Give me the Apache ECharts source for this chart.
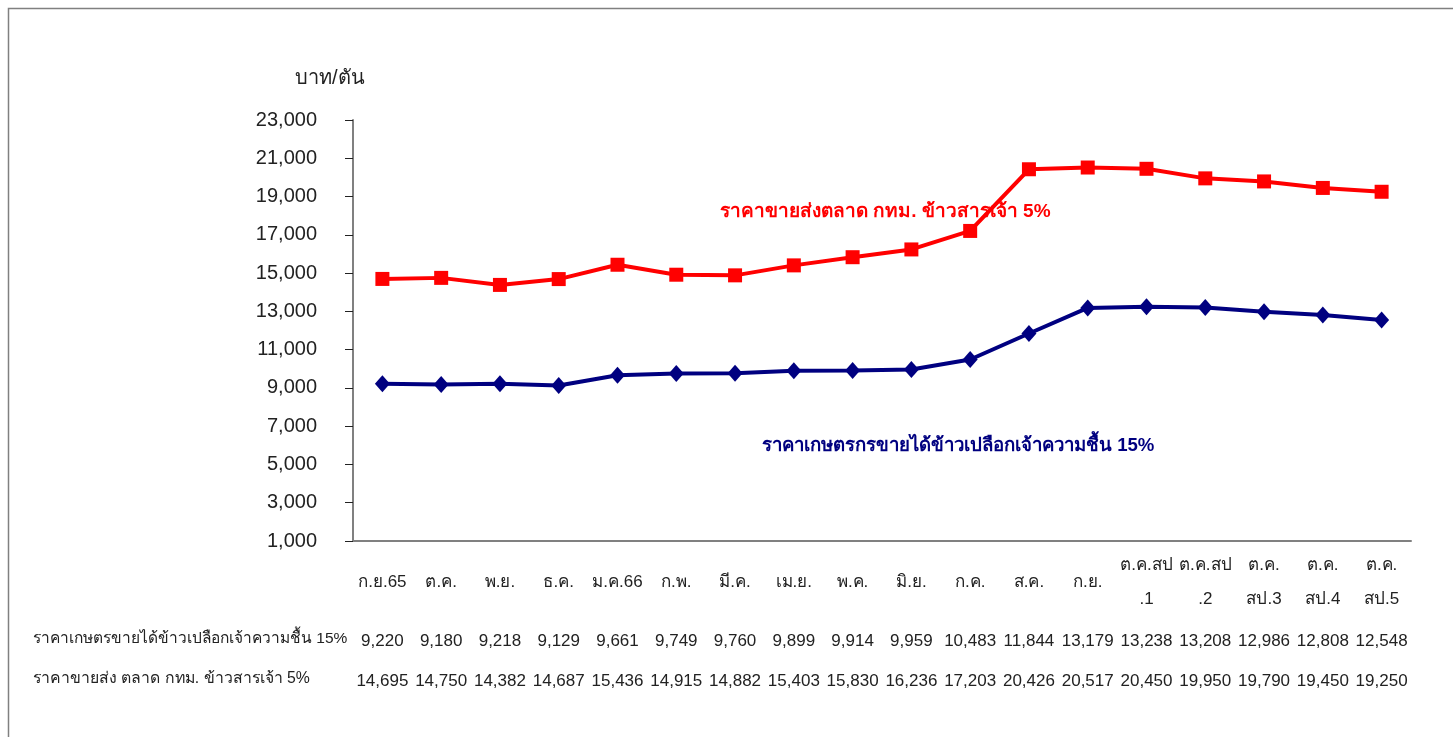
<!DOCTYPE html>
<html>
<head>
<meta charset="utf-8">
<script src="https://cdn.jsdelivr.net/npm/echarts@6/dist/echarts.min.js"></script>
<style>
html,body{margin:0;padding:0;background:#fff;}
#c{width:1453px;height:737px;}
</style>
</head>
<body>
<div id="c"></div>
<script>
const categories = ['ก.ย.65','ต.ค.','พ.ย.','ธ.ค.','ม.ค.66','ก.พ.','มี.ค.','เม.ย.','พ.ค.','มิ.ย.','ก.ค.','ส.ค.','ก.ย.','ต.ค.สป\n.1','ต.ค.สป\n.2','ต.ค.\nสป.3','ต.ค.\nสป.4','ต.ค.\nสป.5'];
const farmerName = 'ราคาเกษตรกรขายได้ข้าวเปลือกเจ้าความชื้น 15%';
const wholesaleName = 'ราคาขายส่งตลาด กทม. ข้าวสารเจ้า 5%';
const farmerRowLabel = 'ราคาเกษตรขายได้ข้าวเปลือกเจ้าความชื้น 15%';
const wholesaleRowLabel = 'ราคาขายส่ง ตลาด กทม. ข้าวสารเจ้า 5%';
const farmerPrice = [9220,9180,9218,9129,9661,9749,9760,9899,9914,9959,10483,11844,13179,13238,13208,12986,12808,12548];
const wholesalePrice = [14695,14750,14382,14687,15436,14915,14882,15403,15830,16236,17203,20426,20517,20450,19950,19790,19450,19250];
const yMin = 1000, yMax = 23000, yStep = 2000;
const unitLabel = 'บาท/ตัน';

const FONT = "Tahoma, 'Liberation Sans', 'DejaVu Sans', sans-serif";
const fmt = v => v.toLocaleString('en-US');

const chart = echarts.init(document.getElementById('c'), null, {renderer:'canvas'});
const hiddenAxis = (data, margin) => ({
  type:'category', data: data, position:'bottom', gridIndex:0,
  axisLine:{show:false}, axisTick:{show:false}, splitLine:{show:false},
  axisLabel:{interval:0, margin: margin, verticalAlign:'middle', fontFamily:FONT, fontSize:17, color:'#222'}
});
chart.setOption({
  animation:false,
  backgroundColor:'#fff',
  grid:{left:353, right:42, top:120, bottom:196, containLabel:false},
  xAxis:[
    {type:'category', data:categories, boundaryGap:true,
     axisLine:{lineStyle:{color:'#808080', width:2}}, axisTick:{show:false},
     axisLabel:{interval:0, margin:41, verticalAlign:'middle', lineHeight:34, fontFamily:FONT, fontSize:17, color:'#222'}},
    hiddenAxis(farmerPrice.map(fmt), 100),
    hiddenAxis(wholesalePrice.map(fmt), 140)
  ],
  yAxis:{type:'value', min:yMin, max:yMax, interval:yStep,
    axisLine:{show:true, lineStyle:{color:'#808080', width:2}},
    axisTick:{show:true, length:8, lineStyle:{color:'#222', width:1}},
    splitLine:{show:false},
    axisLabel:{margin:36, fontFamily:FONT, fontSize:20, color:'#222', formatter:v=>fmt(v)}},
  graphic:[
    {type:'rect', shape:{x:8.5, y:8.5, width:1500, height:800}, style:{fill:'none', stroke:'#808080', lineWidth:1.5}, silent:true},
    {type:'text', left:295, top:68, style:{text:unitLabel, fontFamily:FONT, fontSize:20, fill:'#222'}},
    {type:'text', left:33, top:631, style:{text:farmerRowLabel, fontFamily:FONT, fontSize:15.5, fill:'#222'}},
    {type:'text', left:33, top:671, style:{text:wholesaleRowLabel, fontFamily:FONT, fontSize:15.8, fill:'#222'}},
    {type:'text', left:720, top:202, style:{text:wholesaleName, fontFamily:FONT, fontSize:19, fontWeight:'bold', fill:'#FF0000'}},
    {type:'text', left:762, top:436, style:{text:farmerName, fontFamily:FONT, fontSize:18.6, fontWeight:'bold', fill:'#000080'}}
  ],
  series:[
    {name:wholesaleName, type:'line', data:wholesalePrice, xAxisIndex:0,
     symbol:'rect', symbolSize:14, lineStyle:{color:'#FF0000', width:4}, itemStyle:{color:'#FF0000'}},
    {name:farmerName, type:'line', data:farmerPrice, xAxisIndex:0,
     symbol:'diamond', symbolSize:[15,17], lineStyle:{color:'#000080', width:4}, itemStyle:{color:'#000080'}}
  ]
});
</script>
</body>
</html>
